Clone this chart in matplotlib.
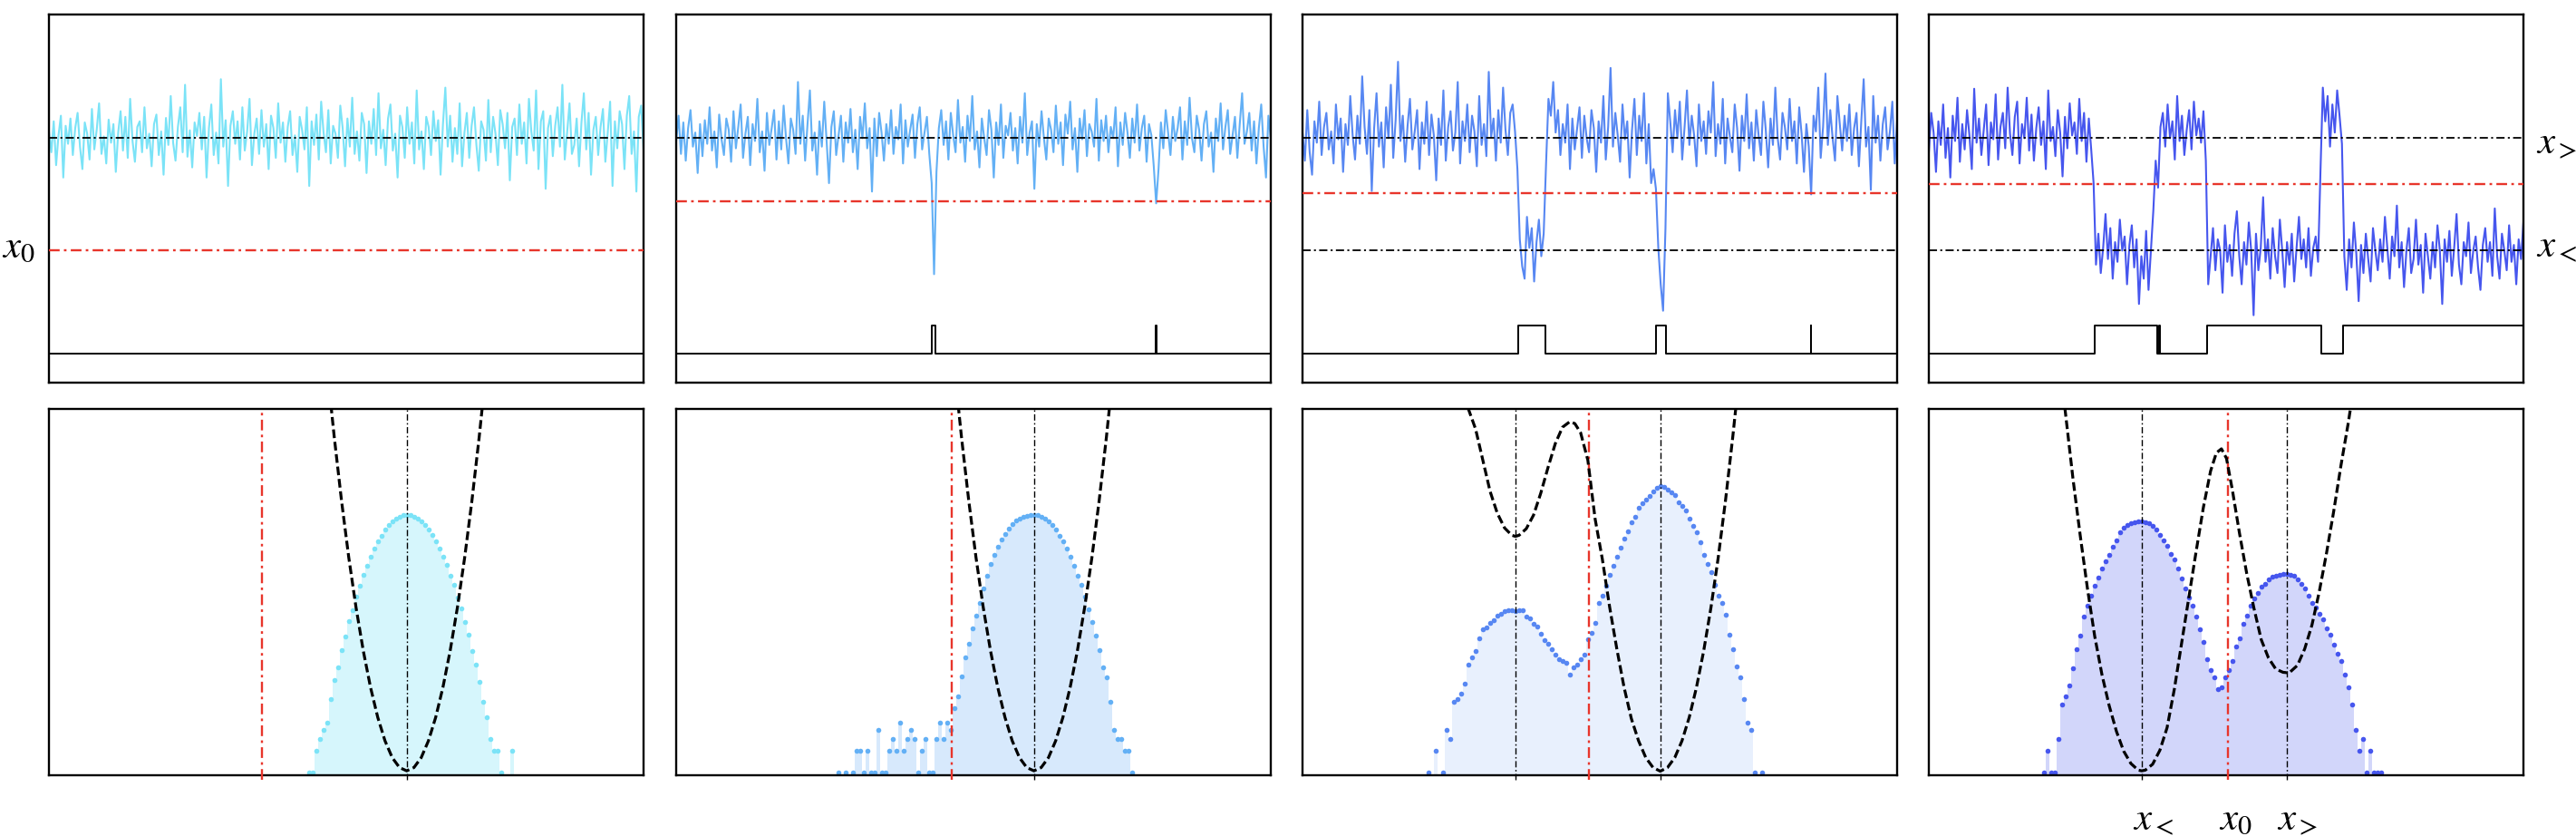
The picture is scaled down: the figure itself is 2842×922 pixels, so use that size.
import matplotlib.pyplot as plt
import matplotlib.transforms as mtransforms
import numpy as np

plt.rcParams["mathtext.fontset"] = "stix"

# ---------------- data ----------------
# trajectories, position in 1/100 units (x_> = 1, x_< = -1)
trace_1 = [
    112, 75, 130, 52, 105, 140, 30, 122, 90, 135,
    70, 118, 145, 85, 45, 128, 108, 62, 152, 80,
    115, 162, 72, 103, 55, 133, 92, 125, 40, 110,
    148, 78, 138, 65, 170, 95, 58, 120, 130, 75,
    155, 82, 108, 50, 125, 142, 70, 112, 35, 136,
    88, 175, 92, 60, 120, 155, 75, 195, 67, 114,
    48, 128, 104, 145, 80, 138, 30, 118, 160, 70,
    110, 55, 205, 85, 132, 15, 122, 148, 90, 130,
    62, 155, 78, 112, 170, 52, 108, 135, 72, 150,
    85, 125, 45, 140, 118, 65, 162, 92, 128, 58,
    120, 148, 70, 105, 40, 138, 115, 80, 155, 15,
    130, 88, 142, 62, 165, 110, 75, 150, 55, 122,
    108, 65, 158, 118, 50, 135, 85, 172, 72, 112,
    60, 145, 125, 38, 130, 90, 152, 70, 180, 82,
    115, 52, 135, 160, 78, 108, 30, 140, 120, 65,
    155, 90, 128, 55, 185, 80, 112, 45, 138, 120,
    70, 148, 95, 132, 35, 125, 190, 85, 140, 58,
    118, 72, 162, 50, 110, 145, 65, 122, 155, 88,
    42, 130, 115, 60, 168, 75, 138, 108, 52, 150,
    125, 82, 145, 25, 120, 135, 70, 160, 90, 128,
    55, 170, 112, 78, 185, 45, 130, 148, 10, 118,
    140, 68, 122, 155, 85, 195, 62, 110, 162, 72,
    88, 135, 50, 128, 180, 80, 145, 35, 115, 138,
    70, 120, 152, 58, 110, 165, 15, 130, 82, 148,
    125, 45, 140, 175, 72, 112, 5, 138, 158, 80,
]
trace_2 = [
    95, 140, 72, 128, 60, 118, 150, 85, 110, 38,
    125, 68, 132, 90, 155, 78, 112, 48, 142, 98,
    70, 135, 115, 58, 148, 82, 120, 160, 65, 108,
    138, 52, 125, 95, 170, 75, 112, 42, 145, 88,
    118, 150, 62, 130, 80, 158, 100, 55, 135, 115,
    72, 200, 90, 140, 60, 125, 185, 78, 110, 35,
    130, 85, 165, 95, 20, 120, 148, 70, 105, 140,
    58, 128, 92, 152, 75, 115, 45, 138, 100, 162,
    82, 118, 5, 135, 68, 145, 110, 60, 125, 90,
    150, 72, 120, 98, 160, 55, 132, 85, 115, 142,
    65, 125, 155, 80, 110, 138, 72, 20, -142, 40,
    118, 150, 88, 130, 62, 145, 105, 75, 168, 92,
    120, 58, 140, 95, 175, 80, 112, 48, 135, 100,
    70, 150, 115, 30, 128, 88, 160, 65, 122, 105,
    145, 78, 118, 55, 138, 92, 180, 70, 110, 130,
    10, 125, 85, 148, 100, 62, 135, 115, 75, 158,
    90, 128, 52, 142, 108, 165, 80, 118, 40, 135,
    98, 150, 68, 125, 112, 85, 170, 60, 132, 95,
    140, 75, 120, 100, 155, 50, 128, 88, 145, 110,
    65, 135, 92, 160, 78, 118, 140, 58, 125, 105,
    50, -16, 45, 128, 82, 150, 110, 70, 138, 95,
    118, 155, 62, 130, 88, 172, 100, 75, 140, 115,
    60, 125, 148, 85, 110, 40, 135, 95, 162, 80,
    120, 150, 72, 105, 138, 65, 125, 180, 90, 112,
    145, 78, 130, 55, 118, 160, 85, 30, 140, 100,
]
trace_3 = [
    110, 60, 150, 75, 35, 130, 92, 165, 70, 120,
    145, 80, 112, 55, 160, 98, 135, 40, 125, 88,
    175, 105, 62, 140, 90, 210, 120, 72, 150, 6,
    118, 180, 85, 128, 48, 155, 100, 195, 65, 132,
    236, 95, 140, 58, 122, 170, 80, 112, 150, 45,
    128, 90, 165, 70, 142, 105, 25, 135, 88, 185,
    60, 120, 148, 78, 110, 200, 55, 130, 95, 160,
    75, 140, 112, 50, 175, 88, 125, 68, 218, 102,
    135, 60, 150, 92, 190, 115, 70, 145, 160, 112,
    45, -80, -128, -150, -40, -95, -60, -155, -85, -45,
    -110, -70, 55, 170, 140, 200, 110, 150, 70, 125,
    92, 160, 45, 135, 80, 118, 155, 65, 140, 100,
    75, 150, 118, 40, 130, 92, 175, 62, 120, 225,
    85, 145, 105, 58, 160, 98, 130, 30, 115, 170,
    70, 140, 95, 180, 55, 125, 20, 45, 10, -95,
    -160, -207, -60, 180, 130, 75, 150, 100, 165, 62,
    120, 185, 88, 140, 105, 50, 160, 95, 130, 72,
    148, 110, 200, 68, 125, 90, 170, 55, 135, 102,
    75, 160, 118, 42, 140, 95, 178, 82, 128, 60,
    150, 105, 70, 165, 115, 48, 135, 88, 190, 100,
    62, 145, 120, 80, 170, 95, 130, 55, 155, 108,
    40, 125, 85, 0, 140, 112, 190, 65, 120, 215,
    88, 150, 100, 60, 175, 125, 78, 140, 95, 160,
    70, 118, 145, 50, 130, 205, 85, 120, 8, 175,
    92, 140, 60, 125, 155, 80, 112, 165, 55, 130,
]
trace_4 = [
    75, 145, 110, 40, 130, 88, 160, 65, 118, 30,
    140, 95, 172, 58, 125, 80, 150, 105, 45, 188,
    92, 135, 70, 115, 160, 52, 128, 98, 178, 62,
    120, 145, 82, 190, 108, 70, 138, 165, 55, 125,
    100, 172, 78, 142, 60, 118, 155, 88, 130, 45,
    185, 95, 120, 68, 150, 110, 32, 138, 82, 162,
    105, 128, 72, 170, 95, 145, 58, 135, 80, 20,
    -125, -70, -140, -95, -35, -115, -60, -150, -85, -120,
    -45, -100, -75, -160, -90, -55, -130, -80, -195, -110,
    -150, -65, -170, -100, -30, 60, 12, 120, 145, 85,
    160, 100, 130, 62, 175, 95, 140, 70, 115, 150,
    80, 165, 105, 135, 92, 148, 60, -160, -110, -60,
    -135, -80, -100, -175, -55, -120, -90, -145, -70, -30,
    -110, -160, -85, -125, -50, -100, -215, -70, -135, -95,
    -5, -120, -80, -150, -60, -110, -140, -45, -100, -165,
    -85, -125, -70, -155, -95, -40, -115, -80, -130, -60,
    -145, -95, -75, -120, 40, 190, 130, 175, 85, 160,
    110, 185, 140, 90, -110, -170, -80, -130, -50, -105,
    -190, -90, -140, -70, -115, -155, -60, -100, -135, -80,
    -120, -40, -95, -150, -75, -110, -20, -130, -85, -165,
    -100, -60, -140, -115, -45, -125, -90, -175, -70, -110,
    -150, -85, -130, -55, -100, -195, -80, -120, -65, -145,
    -95, -35, -125, -160, -85, -110, -50, -140, -100, -75,
    -130, -170, -90, -60, -120, -85, -145, -25, -110, -150,
    -70, -100, -135, -55, -120, -90, -160, -80, -115, -50,
]

# state indicator (0 = upper well, 1 = lower well), switching times
state_t_1 = [0, 249]
state_v_1 = [0, 0]
state_t_2 = [0, 107.2, 108.7, 200.95, 201.05, 249]
state_v_2 = [0, 1, 0, 1, 0, 0]
state_t_3 = [0, 90.35, 101.55, 148.1, 152.25, 212.95, 213.05, 249]
state_v_3 = [0, 1, 0, 1, 0, 1, 0, 0]
state_t_4 = [0, 69.5, 95.6, 96.4, 96.9, 116.5, 164.3, 173.3, 249]
state_v_4 = [0, 1, 0, 1, 0, 1, 0, 1, 1]

x_lo, x_hi = -1.0, 1.0
x0 = [-1.0, -0.13, 0.02, 0.19]

# histograms of position (counts, bin width 0.05, first bin centre)
BIN = 0.05
hist_lo = [-0.35, -1.70, -2.20, -2.35]
hist_1 = [1, 1, 2, 3, 4, 5, 11, 20, 31, 54, 84, 139, 200, 310, 440, 625, 845,
          1140, 1460, 1860, 2260, 2730, 3140, 3560, 3890, 4180, 4340, 4400,
          4350, 4160, 3910, 3540, 3160, 2710, 2280, 1840, 1480, 1120, 860, 615,
          450, 300, 210, 133, 88, 52, 33, 19, 10, 6, 3, 2, 2, 1, 0, 0, 2]
hist_2 = [1, 0, 1, 0, 1, 2, 2, 1, 2, 1, 1, 4, 1, 1, 2, 3, 2, 5, 2, 3, 4, 3, 1,
          2, 3, 1, 1, 3, 5, 3, 5, 4,
          8, 12, 23, 42, 67, 108, 164, 250, 400, 610, 880, 1180, 1540, 1960,
          2390, 2860, 3300, 3680, 3950, 4150, 4300, 4360, 4380,
          4340, 4170, 3900, 3550, 3140, 2730, 2260, 1850, 1460, 1140, 850, 615,
          445, 305, 205, 136, 85, 53, 31, 22, 10, 4, 3, 3, 2, 2, 1]
hist_3 = [1, 0, 2, 0, 1, 4, 3, 10, 11, 13, 18, 33, 42, 52, 80, 105, 112, 130,
          142, 165, 175, 190, 198, 195, 190, 200, 195, 160, 150, 128, 115, 92,
          75, 66, 55, 46, 40, 38, 35, 24, 31, 33, 40, 47,
          77, 95, 130, 250, 320, 434, 620, 840, 1120, 1500, 2030, 2580, 3480,
          4170, 5610, 6450, 7300, 8300, 9600, 10700, 11200, 10900, 10200, 9300,
          8500, 6700, 5900, 5100, 3900, 3100, 2500, 1800, 1200, 900, 680, 450,
          320, 250, 170, 90, 55, 32, 22, 11, 5, 4, 1, 0, 1]
hist_4 = [1, 2, 1, 1, 3, 9, 12, 17, 30, 55, 85, 160, 230, 320, 440, 580, 760,
          970, 1200, 1550, 1900, 2500, 2950, 3200, 3400, 3500, 3580, 3600, 3520,
          3350, 3100, 2750, 2300, 1950, 1600, 1250, 1020, 760, 560, 400, 300,
          230, 160, 105, 70, 40, 28,
          22, 15, 16, 22, 28, 38, 60, 80, 125, 165, 230, 290, 350, 420, 470,
          540, 590, 610, 625, 640, 645, 630, 600, 540, 470, 400, 320, 250, 215,
          175, 145, 110, 88, 65, 48, 38, 24, 16, 9, 4, 2, 3, 1, 2, 1, 1, 1]

# potentials
pot_x_1 = [-0.1, 0.0, 0.1, 0.2, 0.3, 0.4, 0.5, 0.6, 0.7, 0.8, 0.9, 1.0, 1.1,
           1.2, 1.3, 1.4, 1.5, 1.6, 1.7, 1.8, 1.9, 2.0, 2.1]
pot_v_1 = [1.113, 0.922, 0.749, 0.594, 0.458, 0.340, 0.240, 0.158, 0.094,
           0.048, 0.021, 0.012, 0.021, 0.048, 0.094, 0.158, 0.240, 0.340,
           0.458, 0.594, 0.749, 0.922, 1.113]
pot_x_2 = pot_x_1
pot_v_2 = pot_v_1
pot_x_3 = [-1.72, -1.65, -1.55, -1.45, -1.35, -1.25, -1.15, -1.05, -1.00, -0.95,
           -0.85, -0.75, -0.65, -0.55, -0.45, -0.35, -0.25, -0.18, -0.10, 0.00,
           0.10, 0.20, 0.30, 0.40, 0.50, 0.60, 0.70, 0.80, 0.90, 1.00, 1.10,
           1.20, 1.30, 1.40, 1.50, 1.60, 1.70, 1.80, 1.90, 2.00, 2.10]
pot_v_3 = [1.07, 1.00, 0.945, 0.86, 0.775, 0.715, 0.675, 0.655, 0.652, 0.655,
           0.673, 0.71, 0.77, 0.84, 0.905, 0.95, 0.965, 0.96, 0.935, 0.86,
           0.70, 0.59, 0.46, 0.345, 0.24, 0.155, 0.094, 0.048, 0.021, 0.011,
           0.021, 0.048, 0.094, 0.158, 0.24, 0.34, 0.458, 0.594, 0.749, 0.922,
           1.11]
pot_x_4 = [-2.10, -2.06, -1.95, -1.85, -1.75, -1.65, -1.55, -1.45, -1.35, -1.25,
           -1.15, -1.05, -1.00, -0.95, -0.85, -0.75, -0.65, -0.55, -0.45, -0.35,
           -0.25, -0.15, -0.05, 0.03, 0.10, 0.17, 0.25, 0.35, 0.45, 0.55, 0.65,
           0.75, 0.85, 0.95, 1.00, 1.05, 1.15, 1.25, 1.35, 1.45, 1.55, 1.65,
           1.75, 1.85, 1.92]
pot_v_4 = [1.07, 1.00, 0.81, 0.655, 0.51, 0.38, 0.275, 0.19, 0.12, 0.066,
           0.032, 0.014, 0.012, 0.014, 0.03, 0.068, 0.13, 0.235, 0.36, 0.485,
           0.61, 0.73, 0.83, 0.88, 0.891, 0.865, 0.78, 0.66, 0.55, 0.455, 0.37,
           0.32, 0.29, 0.281, 0.28, 0.282, 0.30, 0.345, 0.41, 0.50, 0.605, 0.72,
           0.845, 0.96, 1.05]

# ---------------- style ----------------
LINE = ["#7be3f7", "#63b0f5", "#5787f2", "#4656ee"]
FILL = ["#d6f6fc", "#d7e9fc", "#e8f0fd", "#d2d6fa"]
RED = "#e8352b"
DASHDOT = (0, (5, 2, 1.2, 2))
DASHED = (0, (3.0, 1.3))
STEP_BASE, STEP_H = -2.84, 0.50
FLOOR = 0.909
FS = 31

traces = [trace_1, trace_2, trace_3, trace_4]
states_t = [state_t_1, state_t_2, state_t_3, state_t_4]
states_v = [state_v_1, state_v_2, state_v_3, state_v_4]
hists = [hist_1, hist_2, hist_3, hist_4]
pots = [(pot_x_1, pot_v_1), (pot_x_2, pot_v_2), (pot_x_3, pot_v_3), (pot_x_4, pot_v_4)]

fig = plt.figure(figsize=(28.42, 9.22), dpi=100)
lefts = [54 / 2842, 746 / 2842, 1437 / 2842, 2128 / 2842]
width = 656 / 2842

for i in range(4):
    # ---- top: trajectory ----
    ax = fig.add_axes([lefts[i], 0.5423, width, 0.4403])
    y = np.array(traces[i]) / 100.0
    t = np.arange(len(y))
    ax.plot(t, y, color=LINE[i], lw=1.5, zorder=2)
    ax.axhline(x_hi, color="k", lw=1.3, ls=DASHDOT, zorder=3)
    if i >= 2:
        ax.axhline(x_lo, color="k", lw=1.3, ls=DASHDOT, zorder=3)
    ax.axhline(x0[i], color=RED, lw=1.7, ls=DASHDOT, zorder=3)
    ax.step(states_t[i], STEP_BASE + STEP_H * np.array(states_v[i]),
            where="post", color="k", lw=1.4, zorder=3)
    ax.set_xlim(0, len(y) - 1)
    ax.set_ylim(-3.35, 3.20)
    ax.set_xticks([])
    ax.set_yticks([])
    for s in ax.spines.values():
        s.set_linewidth(1.7)
    tr = mtransforms.blended_transform_factory(ax.transAxes, ax.transData)
    if i == 0:
        ax.text(-0.023, x0[i] + 0.08, r"$x_0$", transform=tr, ha="right",
                va="center", fontsize=FS)
    if i == 3:
        ax.text(1.021, x_hi - 0.06, r"$x_{>}$", transform=tr, ha="left",
                va="center", fontsize=FS)
        ax.text(1.021, x_lo + 0.10, r"$x_{<}$", transform=tr, ha="left",
                va="center", fontsize=FS)

    # ---- bottom: histogram + potential ----
    ax = fig.add_axes([lefts[i], 0.0727, width, 0.4382])
    axh = ax.twinx()
    ax.set_zorder(axh.get_zorder() + 1)
    ax.patch.set_visible(False)

    h = np.array(hists[i], dtype=float)
    xc = hist_lo[i] + BIN * np.arange(len(h))
    m = h > 0
    axh.bar(xc[m], h[m] - FLOOR, bottom=FLOOR, width=BIN, color=FILL[i], lw=0)
    axh.plot(xc[m], h[m], "o", ms=4.0, mew=0, color=LINE[i])
    axh.set_yscale("log")
    axh.set_ylim(FLOOR, 1.4e5)
    axh.tick_params(which="both", length=0, labelright=False)
    for s in axh.spines.values():
        s.set_visible(False)

    px, pv = pots[i]
    ax.plot(px, pv, color="k", lw=2.3, ls=DASHED, zorder=4)
    wells = [x_hi] if i < 2 else [x_lo, x_hi]
    for xv in wells:
        ax.axvline(xv, ymin=-0.012, ymax=1, clip_on=False, color="k", lw=1.0,
                   ls=DASHDOT, zorder=3)
    ax.axvline(x0[i], ymin=-0.012, ymax=1, clip_on=False, color=RED, lw=1.7,
               ls=DASHDOT, zorder=3)
    ax.set_xlim(-3.94, 4.27)
    ax.set_ylim(0, 1)
    ax.set_xticks([])
    ax.set_yticks([])
    for s in ax.spines.values():
        s.set_linewidth(1.7)
    if i == 3:
        trb = mtransforms.blended_transform_factory(ax.transData, ax.transAxes)
        for xv, lab in [(x_lo, r"$x_{<}$"), (x0[i], r"$x_0$"), (x_hi, r"$x_{>}$")]:
            ax.text(xv - 0.13, -0.065, lab, transform=trb, ha="left", va="top",
                    fontsize=FS)

fig.savefig("out.png", dpi=100)
